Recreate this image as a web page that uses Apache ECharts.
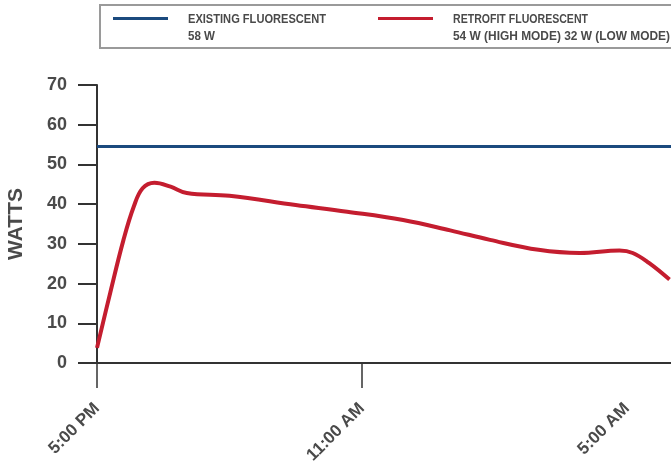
<!DOCTYPE html>
<html><head><meta charset="utf-8">
<script src="https://cdn.jsdelivr.net/npm/echarts@6/dist/echarts.min.js"></script>
<style>html,body{margin:0;padding:0;background:#fff}#c{width:671px;height:461px}</style>
</head><body><div id="c"></div>
<script>
const FONT = '"Liberation Sans",Arial,sans-serif';
const xTickHours = [0, 18, 36];
const xTickLabels = ['5:00 PM', '11:00 AM', '5:00 AM'];
const yTicks = [0, 10, 20, 30, 40, 50, 60, 70];
const existingName = 'EXISTING FLUORESCENT';
const existingSub = '58 W';
const retrofitName = 'RETROFIT FLUORESCENT';
const retrofitSub = '54 W (HIGH MODE) 32 W (LOW MODE)';
const existingHours = [0, 39];
const existingWatts = [54.5, 54.5];
const retrofitHours = [0, 0.9, 1.8, 2.5, 3.1, 3.9, 5, 6.1, 9, 13.5, 17, 20.8, 24, 26.7, 30, 32.8, 35.5, 36.4, 37.5, 38.9];
const retrofitWatts = [3.8, 17.7, 31, 39.4, 44, 45.4, 44.4, 42.8, 42.1, 39.8, 38.1, 36, 33.4, 31, 28.5, 27.7, 28.3, 27.7, 25.2, 21];

const BLUE = '#1b4a7e', RED = '#c41d2f', TXT = '#4a4a4a', AX = '#333';

const ctx = document.createElement('canvas').getContext('2d');
function fitScale(text, font, target) { ctx.font = font; return target / ctx.measureText(text).width; }
const LF = 'bold 13px ' + FONT;

const chart = echarts.init(document.getElementById('c'), null, {renderer: 'canvas'});
chart.setOption({
  animation: false,
  grid: {left: 97, right: 0, top: 85, bottom: 98, containLabel: false, outerBoundsMode: 'none'},
  xAxis: {
    type: 'value', min: 0, max: 39, interval: 18,
    axisLine: {show: true, lineStyle: {color: AX, width: 2}},
    axisTick: {show: true, length: 25, customValues: [0, 18], lineStyle: {color: AX, width: 1.5}},
    splitLine: {show: false},
    axisLabel: {
      customValues: xTickHours, rotate: 45, margin: 43,
      color: TXT, fontFamily: FONT, fontWeight: 'bold', fontSize: 17,
      formatter: v => xTickLabels[xTickHours.indexOf(v)] || ''
    }
  },
  yAxis: {
    type: 'value', min: 0, max: 70, interval: 10,
    name: 'WATTS', nameLocation: 'middle', nameGap: 70, nameRotate: 90,
    nameTextStyle: {color: TXT, fontFamily: FONT, fontWeight: 'bold', fontSize: 21},
    axisLine: {show: true, lineStyle: {color: AX, width: 2}},
    axisTick: {show: true, length: 19, lineStyle: {color: AX, width: 2}},
    splitLine: {show: false},
    axisLabel: {color: TXT, fontFamily: FONT, fontWeight: 'bold', fontSize: 18, margin: 30,
      formatter: v => (yTicks.indexOf(v) >= 0 ? String(v) : '')}
  },
  series: [
    {type: 'line', name: existingName, data: existingHours.map((h, i) => [h, existingWatts[i]]),
     showSymbol: false, lineStyle: {color: BLUE, width: 3}, z: 2},
    {type: 'line', name: retrofitName, data: retrofitHours.map((h, i) => [h, retrofitWatts[i]]),
     smooth: 0.4, showSymbol: false, lineStyle: {color: RED, width: 4}, z: 3}
  ],
  graphic: [
    {type: 'rect', shape: {x: 100, y: 5, width: 590, height: 43}, style: {fill: 'none', stroke: '#9a9a9a', lineWidth: 2}},
    {type: 'line', shape: {x1: 113, y1: 18.5, x2: 168, y2: 18.5}, style: {stroke: BLUE, lineWidth: 3}},
    {type: 'text', x: 188, y: 19, scaleX: fitScale(existingName, LF, 138), style: {text: existingName, fill: TXT, font: LF, verticalAlign: 'middle'}},
    {type: 'text', x: 188, y: 36.5, scaleX: fitScale(existingSub, LF, 27), style: {text: existingSub, fill: TXT, font: LF, verticalAlign: 'middle'}},
    {type: 'line', shape: {x1: 378, y1: 18.5, x2: 433, y2: 18.5}, style: {stroke: RED, lineWidth: 3}},
    {type: 'text', x: 453, y: 19, scaleX: fitScale(retrofitName, LF, 135), style: {text: retrofitName, fill: TXT, font: LF, verticalAlign: 'middle'}},
    {type: 'text', x: 453, y: 36.5, scaleX: fitScale(retrofitSub, LF, 217), style: {text: retrofitSub, fill: TXT, font: LF, verticalAlign: 'middle'}}
  ]
});
</script></body></html>
